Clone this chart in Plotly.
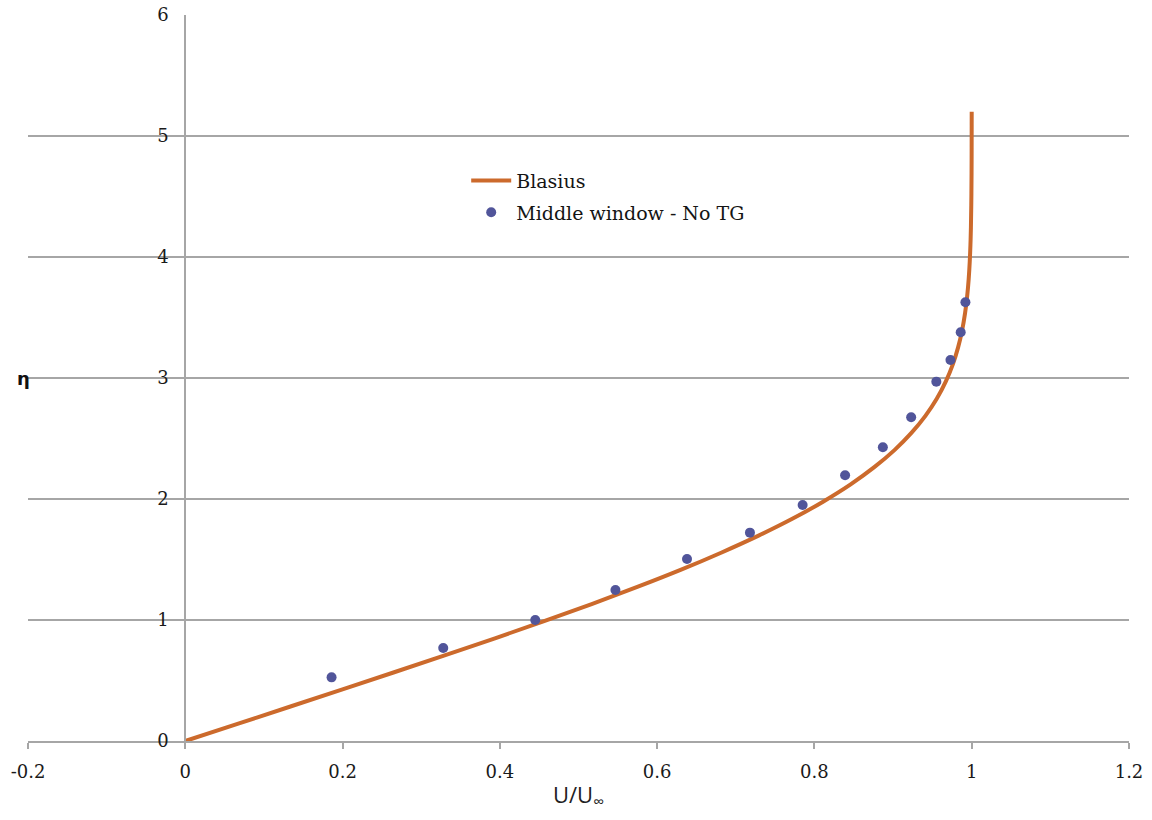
import plotly.graph_objects as go

# Blasius similarity profile: eta vs U/U_inf
eta_blasius = [0, 0.141, 0.283, 0.424, 0.566, 0.707, 0.849, 0.990, 1.131, 1.273,
               1.414, 1.556, 1.697, 1.838, 1.980, 2.121, 2.263, 2.404, 2.546, 2.687,
               2.828, 2.970, 3.111, 3.253, 3.394, 3.536, 3.677, 3.818, 3.960, 4.101,
               4.243, 4.525, 4.808, 5.091, 5.2]
u_blasius = [0, 0.06641, 0.13277, 0.19894, 0.26471, 0.32979, 0.39378, 0.45627, 0.51676, 0.57477,
             0.62977, 0.68132, 0.72899, 0.77246, 0.81152, 0.84605, 0.87609, 0.90177, 0.92333, 0.94112,
             0.95552, 0.96696, 0.97587, 0.98269, 0.98779, 0.99155, 0.99425, 0.99616, 0.99748, 0.99838,
             0.99898, 0.99961, 0.99987, 0.99996, 0.99998]

# Measured profile, middle window without turbulence grid
u_measured = [0.186, 0.328, 0.445, 0.547, 0.638, 0.718, 0.785, 0.839, 0.887, 0.923,
              0.955, 0.973, 0.986, 0.992]
eta_measured = [0.526, 0.769, 1.0, 1.248, 1.504, 1.722, 1.950, 2.196, 2.427, 2.675,
                2.970, 3.149, 3.378, 3.626]

x_ticks = [-0.2, 0, 0.2, 0.4, 0.6, 0.8, 1, 1.2]
x_tick_text = ["-0.2", "0", "0.2", "0.4", "0.6", "0.8", "1", "1.2"]
y_ticks = [0, 1, 2, 3, 4, 5, 6]

GRID = "#a6a6a6"
TICK_FONT = dict(family="DejaVu Serif", size=18, color="#1a1a1a")

fig = go.Figure()
fig.add_trace(go.Scatter(
    x=u_blasius, y=eta_blasius, mode="lines", name="Blasius", legendgroup="blasius",
    line=dict(color="#cc6a2c", width=4, shape="spline"),
))
fig.add_trace(go.Scatter(
    x=u_measured, y=eta_measured, mode="markers", name="Middle window - No TG",
    legendgroup="measured",
    marker=dict(color="#51559a", size=10),
))

fig.update_layout(
    width=1152, height=820,
    margin=dict(l=28, r=23, t=15, b=79, autoexpand=False),
    paper_bgcolor="white", plot_bgcolor="white",
    showlegend=True,
    legend=dict(
        x=0.398, y=0.798, xanchor="left", yanchor="top",
        bgcolor="rgba(0,0,0,0)",
        font=dict(family="DejaVu Serif", size=19, color="#141414"),
        itemwidth=40, tracegroupgap=4,
    ),
    xaxis=dict(
        range=[-0.2, 1.2], tickvals=x_ticks, ticktext=x_tick_text,
        automargin=False,
        showgrid=False, zeroline=True, zerolinecolor=GRID, zerolinewidth=1.5,
        showline=True, linecolor=GRID, linewidth=1.5,
        ticks="outside", ticklen=6, tickcolor=GRID, tickwidth=1.5,
        tickfont=TICK_FONT, ticklabelstandoff=8,
        title=dict(text="U/U<sub>∞</sub>", font=dict(family="Open Sans", size=22, color="#222222"),
                   standoff=6),
    ),
    yaxis=dict(
        range=[0, 6], tickvals=y_ticks,
        anchor="free", position=(185 - 28) / 1101,
        automargin=False,
        showgrid=True, gridcolor=GRID, gridwidth=1.5,
        zeroline=False, showline=True, linecolor=GRID, linewidth=1.5,
        ticks="", tickfont=TICK_FONT, ticklabelstandoff=12,
    ),
)

fig.add_annotation(
    text="<b>η</b>", xref="paper", yref="y", x=-0.012, y=3.0,
    showarrow=False, font=dict(family="DejaVu Sans", size=18, color="#111111"),
)

fig.write_html("out.html")
